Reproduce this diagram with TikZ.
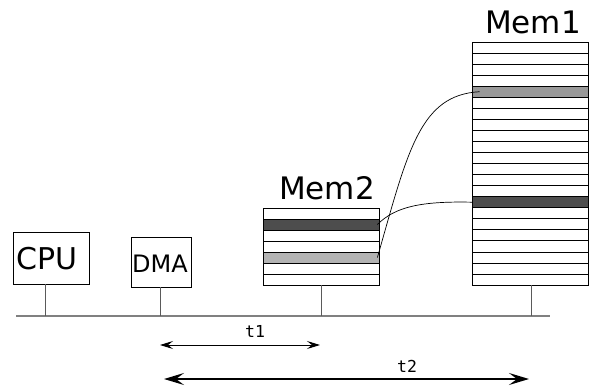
\documentclass[tikz,border=0pt]{standalone}
\usepackage{fontspec}
\setmainfont{DejaVu Sans}
\newfontfamily\monofnt{DejaVu Sans Mono}
\usetikzlibrary{arrows.meta}
\definecolor{darkrow}{HTML}{4D4D4D}
\definecolor{lightrow}{HTML}{B3B3B3}
\definecolor{midrow}{HTML}{999999}
\definecolor{busgray}{HTML}{808080}
\tikzset{
  devbox/.style={draw=black, line width=0.8pt, fill=white, inner sep=0pt},
  memrow/.style={draw=black, line width=0.8pt, fill=white, inner sep=0pt, minimum width=116pt, minimum height=11pt},
  bigtxt/.style={inner sep=0pt, anchor=base, font=\fontsize{31}{31}\selectfont},
  tag/.style={inner sep=0pt, anchor=base, font=\monofnt\fontsize{16.5}{16.5}\selectfont},
  tap/.style={draw=busgray!70!black, line width=0.8pt},
  bus/.style={draw=busgray, line width=1.8pt},
  link/.style={draw=black, line width=0.7pt},
  span/.style={draw=black, line width=1pt}
}
\begin{document}
\begin{tikzpicture}[x=1pt, y=-1pt]
\useasboundingbox (0,0) rectangle (592,388);
% bus
\coordinate (busL) at (16,316);
\coordinate (busR) at (550,316);
\draw[bus] (busL) -- (busR);
% CPU
\node[devbox, minimum width=76pt, minimum height=52pt] (cpu) at (51,258) {};
\node[inner sep=0pt, anchor=base, font=\fontsize{30}{30}\selectfont] (cputxt) at (47,269) {CPU};
\coordinate (cpubus) at (45,316);
\draw[tap] (cpu.south -| cpubus) -- (cpubus);
% DMA
\node[devbox, minimum width=60pt, minimum height=50pt] (dma) at (161,262) {};
\node[inner sep=0pt, anchor=base, font=\fontsize{24}{24}\selectfont] (dmatxt) at (160,272) {DMA};
\coordinate (dmabus) at (160,316);
\draw[tap] (dma.south -| dmabus) -- (dmabus);
% Mem2
\foreach \i in {1,...,7} {
  \pgfmathsetmacro{\yy}{208+11*(\i-1)+5.5}
  \node[memrow] (m2r\i) at (321,\yy) {};
}
\node[memrow, fill=darkrow] at (m2r2) {};
\node[memrow, fill=lightrow] at (m2r5) {};
\node[bigtxt] (mem2txt) at (327,199) {Mem2};
\coordinate (m2bus) at (321,316);
\draw[tap] (m2r7.south) -- (m2bus);
% Mem1
\foreach \i in {1,...,22} {
  \pgfmathsetmacro{\yy}{42+11.05*(\i-1)+5.5}
  \node[memrow, minimum height=11.05pt] (m1r\i) at (530,\yy) {};
}
\node[memrow, minimum height=11.05pt, fill=midrow] at (m1r5) {};
\node[memrow, minimum height=11.05pt, fill=darkrow] at (m1r15) {};
\node[bigtxt] (mem1txt) at (533,34) {Mem1};
\coordinate (m1bus) at (531,316);
\draw[tap] (m1r22.south -| m1bus) -- (m1bus);
% links
\draw[link] ([xshift=-2pt]m2r5.east) .. controls (408,150) and (420,95) .. ([xshift=8pt]m1r5.west);
\draw[link] ([xshift=-2pt]m2r2.east) .. controls (395,207) and (420,201) .. ([xshift=1pt]m1r15.west);
% time spans
\coordinate (t1a) at (160,345);
\coordinate (t1b) at (320,345);
\draw[span, {Stealth[length=13pt,width=8pt,inset=5pt]}-{Stealth[length=13pt,width=8pt,inset=5pt]}] (t1a) -- (t1b);
\node[tag] (t1) at (255,337) {t1};
\coordinate (t2a) at (164,379);
\coordinate (t2b) at (529,379);
\draw[span, line width=1.4pt, {Stealth[length=20pt,width=12pt,inset=8pt]}-{Stealth[length=20pt,width=12pt,inset=8pt]}] (t2a) -- (t2b);
\node[tag] (t2) at (407,372) {t2};
\end{tikzpicture}
\end{document}
